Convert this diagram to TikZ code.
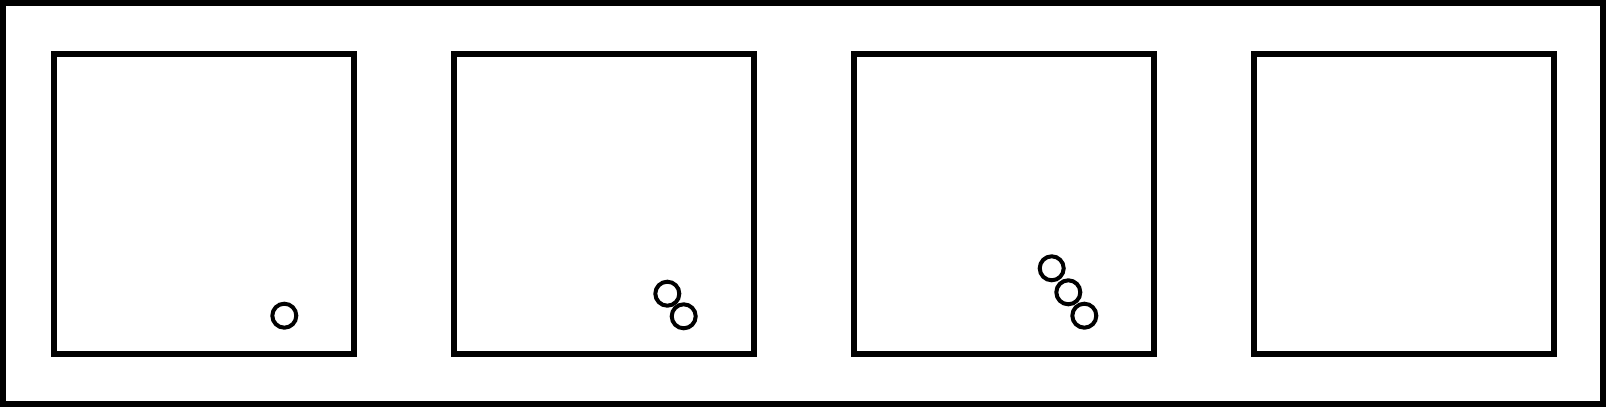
\documentclass[tikz,border=0pt]{standalone}
\usepackage{tikz}

\begin{document}
\begin{tikzpicture}
			%%%%% START %%%%%
			\useasboundingbox (0, 0) rectangle (16.06, 4.07);
			
			\draw[line width=0.6mm] (0.03, 0.03) rectangle (16.03, 4.04);
			
			\draw[line width=0.6mm] (0.54, 0.53) rectangle (3.54, 3.525);
			\draw[line width=0.6mm] (4.54, 0.53) rectangle (7.54, 3.525);
			\draw[line width=0.6mm] (8.54, 0.53) rectangle (11.54, 3.525);
			\draw[line width=0.6mm] (12.54, 0.53) rectangle (15.54, 3.525);
			
			\draw [line width=0.4mm](2.843, 0.913) circle (0.12);
			
			\draw [line width=0.4mm](6.837, 0.907) circle (0.12);
			\draw [line width=0.4mm](6.673, 1.133) circle (0.12);
			
			\draw [line width=0.4mm](10.843, 0.913) circle (0.12);
			\draw [line width=0.4mm](10.683, 1.147) circle (0.12);
			\draw [line width=0.4mm](10.517, 1.387) circle (0.12);
			
			%%%%% END %%%%%
\end{tikzpicture}
\end{document}
